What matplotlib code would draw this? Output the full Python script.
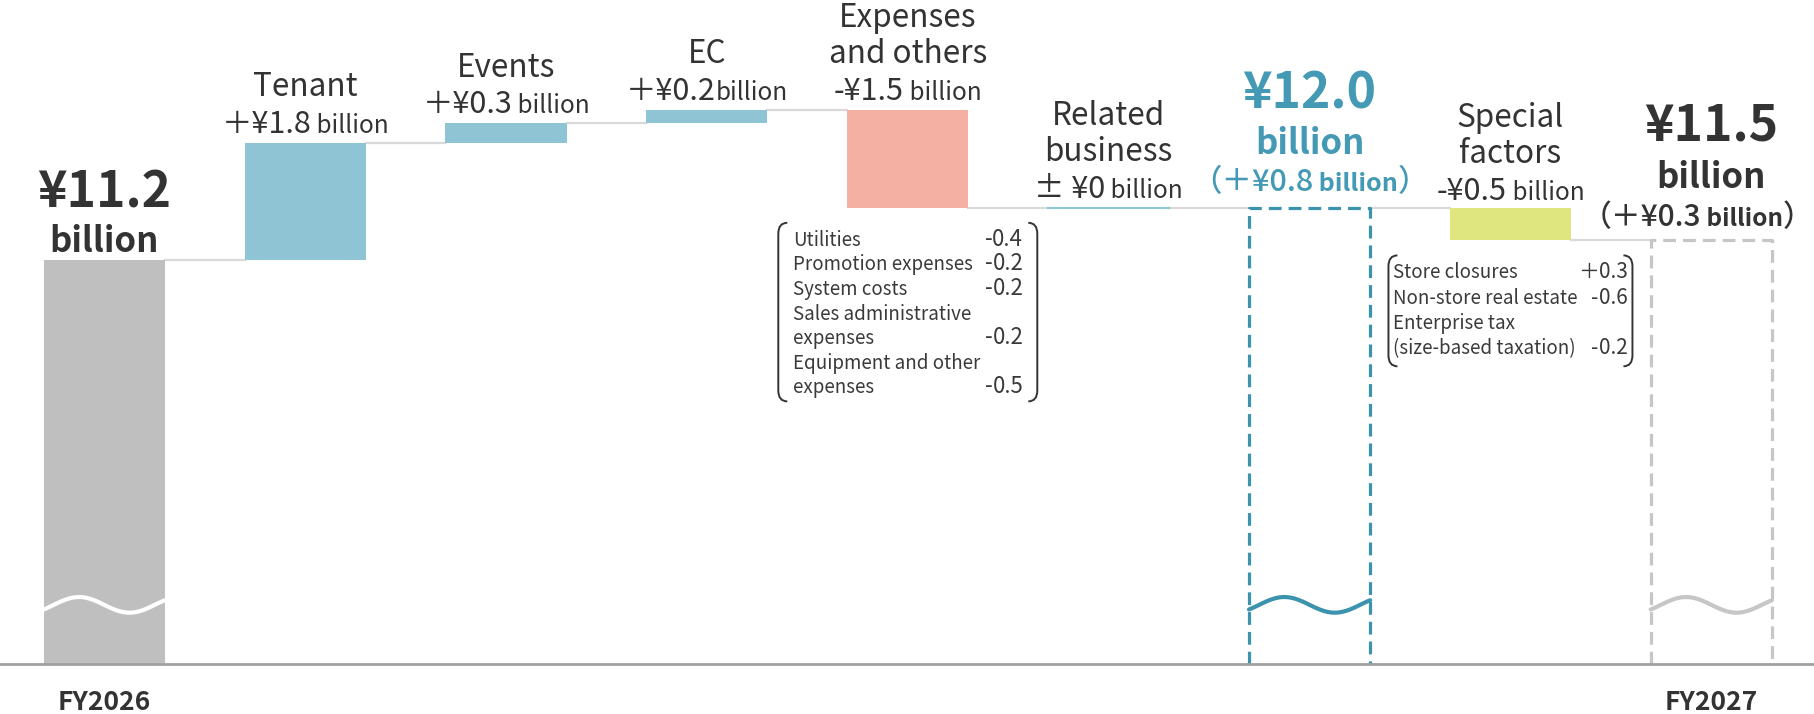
import matplotlib
matplotlib.use('Agg')
import matplotlib.pyplot as plt
import numpy as np
from matplotlib import transforms
from matplotlib.path import Path
from matplotlib.patches import PathPatch

plt.rcParams['font.family'] = ['Noto Sans CJK JP', 'DejaVu Sans']

W, H, DPI = 1815, 714, 100

# ---- data (¥ billion) ----
start_value = 11.2
step_labels = ['Tenant', 'Events', 'EC', 'Expenses\nand others', 'Related\nbusiness']
step_values = [1.8, 0.3, 0.2, -1.5, 0.0]
special_label = 'Special\nfactors'
special_value = -0.5
year_labels = ['FY2026', 'FY2027']

expense_items = ['Utilities', 'Promotion expenses', 'System costs',
                 'Sales administrative\nexpenses', 'Equipment and other\nexpenses']
expense_values = [-0.4, -0.2, -0.2, -0.2, -0.5]
special_items = ['Store closures', 'Non-store real estate',
                 'Enterprise tax\n(size-based taxation)']
special_item_values = [0.3, -0.6, -0.2]

# ---- colours ----
DARK = '#333333'
GRAY = '#bfbfbf'
POS = '#8fc4d4'
NEG = '#f4b0a3'
SPECIAL = '#dfe67f'
ZERO = '#8fc6d6'
TEAL = '#4499b4'
TEAL_LINE = '#3b93ae'
GRAY_LINE = '#c6c6c6'
CONNECT = '#d9d9d9'

fig = plt.figure(figsize=(W / DPI, H / DPI), dpi=DPI)
ax = fig.add_axes([0, 0, 1, 1])
ax.set_xlim(-0.519, 8.516)
ax.set_ylim(4.236, 15.187)
ax.axis('off')

base = 5.0
bw = 0.603
levels = start_value + np.cumsum(step_values)
prev = np.concatenate([[start_value], levels[:-1]])
subtotal = levels[-1]
end_value = subtotal + special_value
x_steps = np.arange(1, len(step_values) + 1)
x_sub = len(step_values) + 1
x_special = x_sub + 1
x_end = x_sub + 2

# bars
ax.bar(0, start_value - base, bottom=base, width=bw, color=GRAY, zorder=2)
for x, lo, hi, v in zip(x_steps, prev, levels, step_values):
    if v == 0:
        ax.plot([x - bw / 2, x + bw / 2], [hi, hi], color=ZERO, lw=1.5, zorder=3)
    else:
        ax.bar(x, hi - lo, bottom=lo, width=bw, color=POS if v > 0 else NEG, zorder=2)
ax.bar(x_special, special_value, bottom=subtotal, width=bw, color=SPECIAL, zorder=2)


def dashed_box(x, top, color):
    ax.plot([x - bw / 2, x - bw / 2, x + bw / 2, x + bw / 2], [base, top, top, base],
            color=color, lw=2.3, ls=(0, (4, 2.2)), zorder=3)


dashed_box(x_sub, subtotal, TEAL_LINE)
dashed_box(x_end, end_value, GRAY_LINE)

# connectors
level_after = [start_value] + list(levels) + [subtotal, end_value]
for i, lv in enumerate(level_after):
    ax.plot([i + bw / 2, i + 1 - bw / 2], [lv, lv], color=CONNECT, lw=1.6, zorder=1)

# axis break waves
t = np.linspace(-0.1, 1.1, 90)
wave_y = 5.91
for x, c, lw in [(0, 'white', 3.0), (x_sub, TEAL_LINE, 3.0), (x_end, GRAY_LINE, 3.0)]:
    ax.plot(x - bw / 2 + bw * (t + 0.1) / 1.2, wave_y + 0.12 * np.sin(2 * np.pi * t),
            color=c, lw=lw, zorder=4, solid_capstyle='round')

ax.axhline(base, color='#a0a0a0', lw=2, zorder=5)

# ---- text helpers (display pixels) ----
renderer = fig.canvas.get_renderer()
ident = transforms.IdentityTransform()


def disp(x, y):
    return ax.transData.transform((x, y))


def put_line(xc, y, parts, color=DARK, ha='center'):
    texts, widths = [], []
    for s, size, weight in parts:
        tx = fig.text(0, 0, s, fontsize=size, fontweight=weight, color=color,
                      va='baseline', ha='left', transform=ident)
        texts.append(tx)
        widths.append(tx.get_window_extent(renderer).width)
    total = sum(widths)
    if ha == 'center':
        xx = xc - total / 2
    elif ha == 'right':
        xx = xc - total
    else:
        xx = xc
    for tx, w in zip(texts, widths):
        tx.set_position((xx, y))
        xx += w


def signed(v, plus='＋'):
    return (plus if v > 0 else '-' if v < 0 else '± ') + ('¥%.1f' % abs(v) if v else '¥0')


# step labels
for x, lo, hi, v, lab in zip(x_steps, prev, levels, step_values, step_labels):
    xc, ytop = disp(x, max(lo, hi))
    yb = ytop + 10
    gap = '' if lab == 'EC' else ' '
    put_line(xc, yb, [(signed(v), 22, 'normal'), (gap + 'billion', 17.5, 'normal')])
    for k, line in enumerate(reversed(lab.split('\n'))):
        put_line(xc, yb + 36.5 * (k + 1), [(line, 22.7, 'normal')])

xc, ytop = disp(x_special, subtotal)
yb = ytop + 8
put_line(xc, yb, [(signed(special_value), 22, 'normal'), (' billion', 17.5, 'normal')])
for k, line in enumerate(reversed(special_label.split('\n'))):
    put_line(xc, yb + 36.5 * (k + 1), [(line, 22.7, 'normal')])

# totals
xc, ytop = disp(0, start_value)
put_line(xc, ytop + 8, [('billion', 25, 'bold')])
put_line(xc, ytop + 52, [('¥%.1f' % start_value, 36, 'bold')])

xc, ytop = disp(x_sub, subtotal)
yb = ytop + 17
put_line(xc, yb, [('（' + signed(subtotal - start_value), 22, 'medium'),
                  (' billion', 18, 'bold'), ('）', 22, 'medium')], color=TEAL)
put_line(xc, yb + 37, [('billion', 25, 'bold')], color=TEAL)
put_line(xc, yb + 82, [('¥%.1f' % subtotal, 36, 'bold')], color=TEAL)

xc, ytop = disp(x_end, end_value)
yb = ytop + 14
put_line(xc - 14, yb, [('（' + signed(end_value - start_value), 21.5, 'medium'),
                       (' billion', 17.5, 'bold'), ('）', 21.5, 'medium')])
put_line(xc, yb + 38, [('billion', 25, 'bold')])
put_line(xc, yb + 86, [('¥%.1f' % end_value, 36, 'bold')])

# year labels
for x, lab in zip([0, x_end], year_labels):
    xc, yb = disp(x, base)
    put_line(xc, yb - 46, [(lab, 19, 'bold')])


# ---- bracketed detail boxes ----
def bracket(x, top, bottom, side):
    h = 9 * side
    verts = [(x + h, top), (x, top), (x, top - 11), (x, bottom + 11), (x, bottom), (x + h, bottom)]
    codes = [Path.MOVETO, Path.CURVE3, Path.CURVE3, Path.LINETO, Path.CURVE3, Path.CURVE3]
    fig.add_artist(PathPatch(Path(verts, codes), transform=ident, fill=False,
                             edgecolor=DARK, lw=1.4))


def detail_box(x, bottom_value, items, values, width, pad_l, pad_r, gap, tail, plus, vsize):
    xc, ybar = disp(x, bottom_value)
    top = ybar - 15
    left, right = xc - width / 2, xc + width / 2
    y = top - 23
    for item, v in zip(items, values):
        lines = item.split('\n')
        for j, line in enumerate(lines):
            put_line(left + pad_l, y, [(line, 13.5, 'normal')], color='#3a3a3a', ha='left')
            if j == len(lines) - 1:
                put_line(right - pad_r, y, [(plus if v > 0 else '-', vsize, 'normal'),
                                            ('%.1f' % abs(v), vsize, 'normal')],
                         color='#3a3a3a', ha='right')
            else:
                y -= gap
        y -= gap
    bottom = y + gap - tail
    bracket(left, top, bottom, 1)
    bracket(right, top, bottom, -1)


detail_box(4, levels[3], expense_items, expense_values, 259, 15, 14, 24.6, 8, '+', 16)
detail_box(x_special, end_value, special_items, special_item_values, 244, 5, 5, 25.3, 12, '＋', 15)

fig.savefig('out.png', dpi=DPI)
